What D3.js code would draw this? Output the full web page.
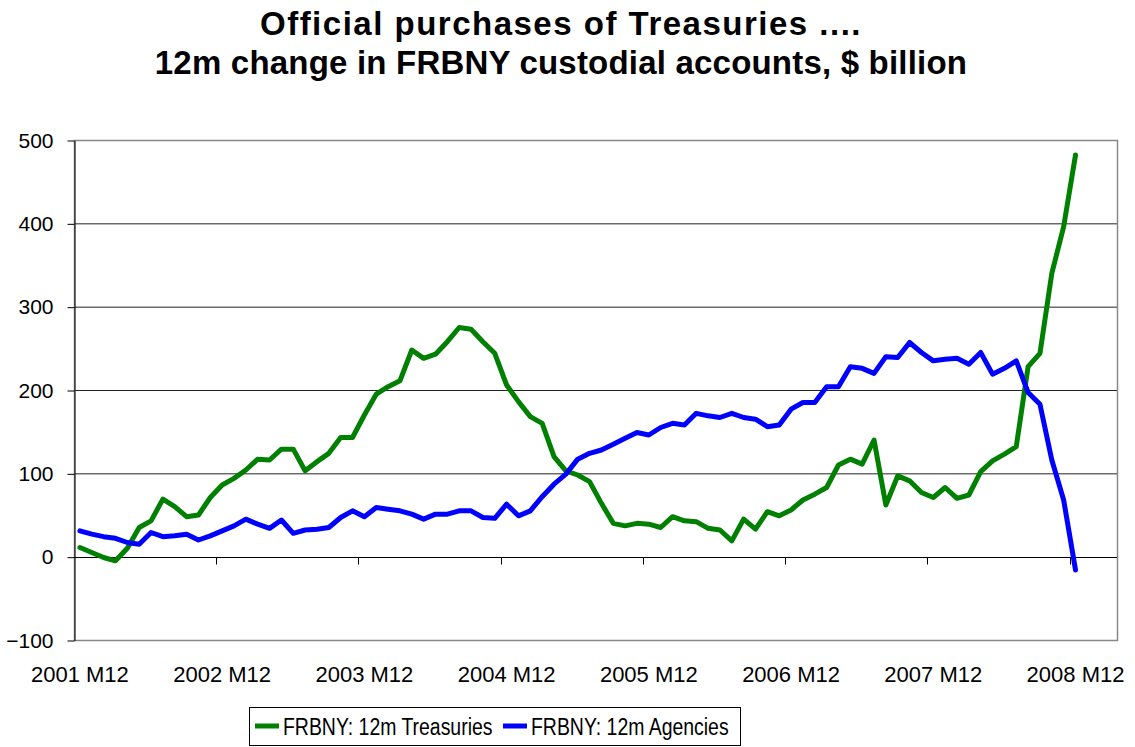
<!DOCTYPE html>
<html>
<head>
<meta charset="utf-8">
<script src="https://cdn.jsdelivr.net/npm/d3@7"></script>
<style>
  body { margin: 0; background: #fff; }
  svg { display: block; font-family: Arial, "Liberation Sans", sans-serif; }
</style>
</head>
<body>
<div id="chart"></div>
<script>
// tick labels on the category axis (one every 12 months)
var tickLabels = ["2001 M12", "2002 M12", "2003 M12", "2004 M12", "2005 M12", "2006 M12", "2007 M12", "2008 M12"];
var yTicks = [-100, 0, 100, 200, 300, 400, 500];

// monthly categories, 2001 M12 .. 2009 M3 (axis runs three months past the data)
var categories = [];
for (var yr = 2001, mo = 12; categories.length < 88; mo++) {
    if (mo > 12) { mo = 1; yr++; }
    categories.push(yr + " M" + mo);
}

// FRBNY: 12m Treasuries, $ billion
var treasuries = [11, 5, -1, -5, 10, 35, 43, 69, 60, 48,
    50, 71, 86, 94, 104, 117, 116, 129, 129, 103,
    114, 124, 143, 143, 170, 195, 204, 211, 248, 238,
    243, 258, 275, 273, 258, 244, 206, 186, 168, 160,
    120, 103, 98, 90, 64, 40, 37, 40, 39, 35,
    48, 43, 42, 34, 32, 19, 45, 33, 54, 49,
    56, 68, 75, 83, 110, 117, 111, 140, 62, 97,
    91, 77, 71, 83, 70, 74, 102, 115, 123, 132,
    228, 244, 340, 396, 482];

// FRBNY: 12m Agencies, $ billion
var agencies = [31, 27, 24, 22, 17, 15, 29, 24, 25, 27,
    20, 25, 31, 37, 45, 39, 34, 44, 28, 32,
    33, 35, 47, 55, 48, 59, 57, 55, 51, 45,
    51, 51, 55, 55, 47, 46, 63, 49, 55, 72,
    87, 99, 117, 124, 128, 135, 142, 149, 146, 155,
    160, 158, 172, 169, 167, 172, 167, 165, 156, 158,
    177, 185, 185, 204, 204, 228, 226, 220, 240, 239,
    257, 245, 235, 237, 238, 231, 245, 219, 226, 235,
    197, 183, 116, 68, -16];

var seriesNames = ["FRBNY: 12m Treasuries", "FRBNY: 12m Agencies"];
var seriesColors = ["#008000", "#0000ff"];

var W = 1135, H = 747;
var plot = { left: 74, right: 1117, top: 140, bottom: 640 };

var svg = d3.select("#chart")
    .append("svg")
    .attr("width", W)
    .attr("height", H);

// title
var title = svg.append("text")
    .attr("text-anchor", "middle")
    .style("font-size", "33px")
    .style("font-weight", "bold");
title.append("tspan").attr("x", 561).attr("y", 35)
    .style("letter-spacing", "1.5px")
    .text("Official purchases of Treasuries ....");
title.append("tspan").attr("x", 561).attr("y", 74)
    .style("letter-spacing", "0.2px")
    .text("12m change in FRBNY custodial accounts, $ billion");

var x = d3.scaleBand()
    .domain(categories)
    .range([plot.left, plot.right])
    .padding(0);

var y = d3.scaleLinear()
    .domain([-100, 500])
    .range([plot.bottom, plot.top]);

function cx(i) { return x(categories[i]) + x.bandwidth() / 2; }

// gridlines
svg.append("g")
    .selectAll("line")
    .data(yTicks.filter(function (d) { return d > 0 && d < 500; }))
    .enter()
    .append("line")
    .attr("x1", plot.left)
    .attr("x2", plot.right)
    .attr("y1", function (d) { return y(d) + 0.5; })
    .attr("y2", function (d) { return y(d) + 0.5; })
    .attr("stroke", "#222")
    .attr("stroke-width", 1);

// plot border (grey)
svg.append("rect")
    .attr("x", plot.left + 0.5)
    .attr("y", plot.top + 0.5)
    .attr("width", plot.right - plot.left)
    .attr("height", plot.bottom - plot.top)
    .attr("fill", "none")
    .attr("stroke", "#888")
    .attr("stroke-width", 1.5);

// Y axis
var yAxis = svg.append("g")
    .attr("transform", "translate(" + (plot.left + 0.5) + ",0.5)")
    .call(d3.axisLeft(y).tickValues(yTicks).tickSize(7).tickPadding(14).tickSizeOuter(0));
yAxis.select(".domain").attr("stroke", "#000");
yAxis.selectAll(".tick line").attr("stroke", "#000");
yAxis.selectAll("text")
    .style("font-size", "21px")
    .style("font-family", "Arial, 'Liberation Sans', sans-serif")
    .attr("fill", "#000");

// category axis at y = 0
var y0 = Math.round(y(0)) + 0.5;
var tickCats = tickLabels.slice(1);
svg.append("line")
    .attr("x1", plot.left)
    .attr("x2", plot.right)
    .attr("y1", y0)
    .attr("y2", y0)
    .attr("stroke", "#000")
    .attr("stroke-width", 1);
svg.append("g")
    .selectAll("line")
    .data(tickCats)
    .enter()
    .append("line")
    .attr("x1", function (d) { return Math.round(x(d)) + 0.5; })
    .attr("x2", function (d) { return Math.round(x(d)) + 0.5; })
    .attr("y1", y0)
    .attr("y2", y0 + 7)
    .attr("stroke", "#000");

// category labels sit below the plot area
svg.append("g")
    .selectAll("text")
    .data(tickLabels)
    .enter()
    .append("text")
    .attr("x", function (d) { return x(d) + x.bandwidth() / 2; })
    .attr("y", 682)
    .attr("text-anchor", "middle")
    .style("font-size", "22px")
    .text(function (d) { return d; });

// lines
var line = d3.line()
    .x(function (d, i) { return cx(i); })
    .y(function (d) { return y(d); });

svg.selectAll(".series")
    .data([treasuries, agencies])
    .enter()
    .append("path")
    .attr("class", "series")
    .attr("fill", "none")
    .attr("stroke", function (d, i) { return seriesColors[i]; })
    .attr("stroke-width", 5)
    .attr("stroke-linejoin", "round")
    .attr("stroke-linecap", "round")
    .attr("d", line);

// legend (text is condensed horizontally, like the original)
var legend = svg.append("g");
legend.append("rect")
    .attr("x", 249.5)
    .attr("y", 707.5)
    .attr("width", 491)
    .attr("height", 38)
    .attr("fill", "#fff")
    .attr("stroke", "#000")
    .attr("stroke-width", 1);

var legendX = [255, 503];
var items = legend.selectAll(".item")
    .data(seriesNames)
    .enter()
    .append("g")
    .attr("transform", function (d, i) { return "translate(" + legendX[i] + ",726)"; });
items.append("line")
    .attr("x1", 0)
    .attr("x2", 24)
    .attr("stroke", function (d, i) { return seriesColors[i]; })
    .attr("stroke-width", 5);
items.append("text")
    .attr("transform", "translate(28,9) scale(0.81,1)")
    .style("font-size", "24px")
    .text(function (d) { return d; });
</script>
</body>
</html>
